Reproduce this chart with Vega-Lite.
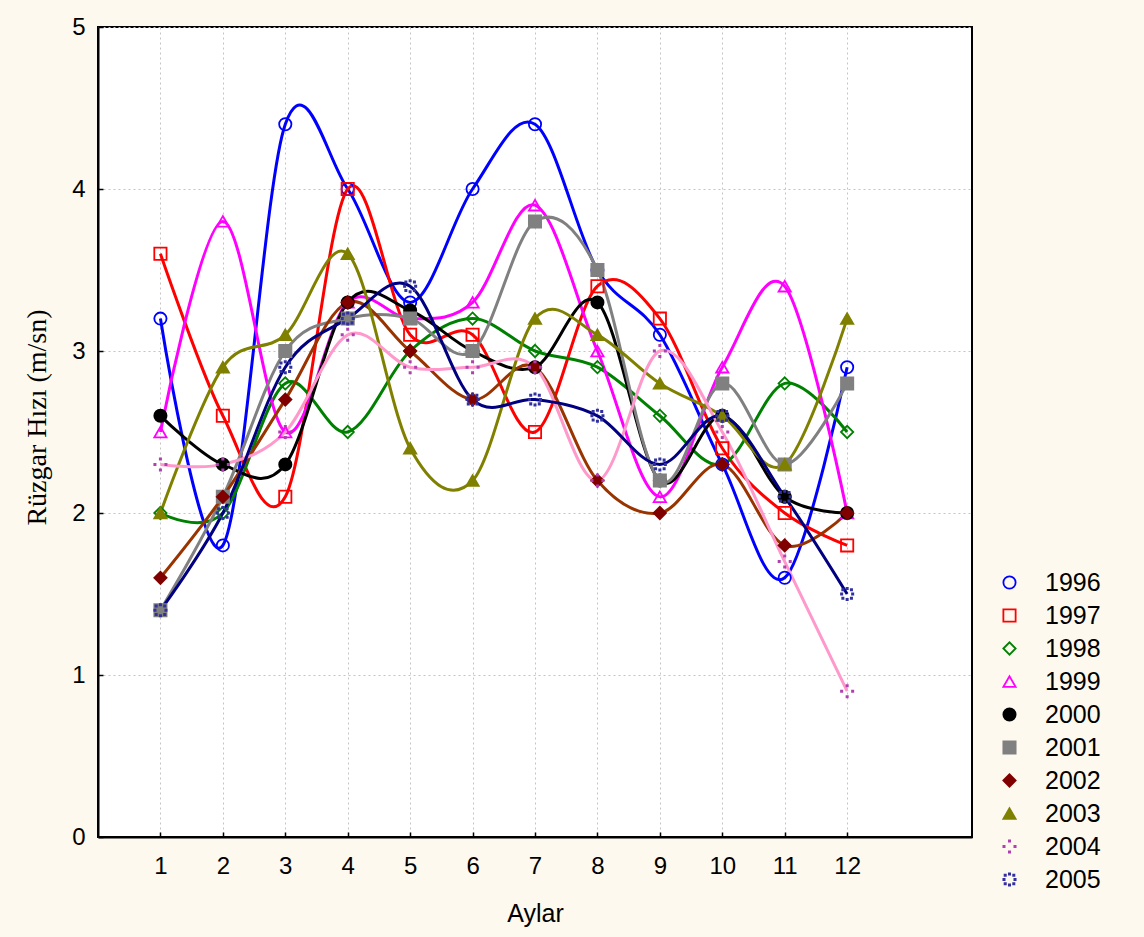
{
  "$schema": "https://vega.github.io/schema/vega-lite/v6.json",
  "width": 874,
  "height": 810,
  "autosize": "none",
  "padding": {"left": 98, "top": 27, "right": 172, "bottom": 100},
  "background": "#FEF9EE",
  "data": {"values": [
      {"year": "1996", "month": 1, "v": 3.2}, {"year": "1996", "month": 2, "v": 1.8}, {"year": "1996", "month": 3, "v": 4.4}, {"year": "1996", "month": 4, "v": 4.0}, {"year": "1996", "month": 5, "v": 3.3}, {"year": "1996", "month": 6, "v": 4.0}, {"year": "1996", "month": 7, "v": 4.4}, {"year": "1996", "month": 8, "v": 3.5}, {"year": "1996", "month": 9, "v": 3.1}, {"year": "1996", "month": 10, "v": 2.3}, {"year": "1996", "month": 11, "v": 1.6}, {"year": "1996", "month": 12, "v": 2.9},
      {"year": "1997", "month": 1, "v": 3.6}, {"year": "1997", "month": 2, "v": 2.6}, {"year": "1997", "month": 3, "v": 2.1}, {"year": "1997", "month": 4, "v": 4.0}, {"year": "1997", "month": 5, "v": 3.1}, {"year": "1997", "month": 6, "v": 3.1}, {"year": "1997", "month": 7, "v": 2.5}, {"year": "1997", "month": 8, "v": 3.4}, {"year": "1997", "month": 9, "v": 3.2}, {"year": "1997", "month": 10, "v": 2.4}, {"year": "1997", "month": 11, "v": 2.0}, {"year": "1997", "month": 12, "v": 1.8},
      {"year": "1998", "month": 1, "v": 2.0}, {"year": "1998", "month": 2, "v": 2.0}, {"year": "1998", "month": 3, "v": 2.8}, {"year": "1998", "month": 4, "v": 2.5}, {"year": "1998", "month": 5, "v": 3.0}, {"year": "1998", "month": 6, "v": 3.2}, {"year": "1998", "month": 7, "v": 3.0}, {"year": "1998", "month": 8, "v": 2.9}, {"year": "1998", "month": 9, "v": 2.6}, {"year": "1998", "month": 10, "v": 2.3}, {"year": "1998", "month": 11, "v": 2.8}, {"year": "1998", "month": 12, "v": 2.5},
      {"year": "1999", "month": 1, "v": 2.5}, {"year": "1999", "month": 2, "v": 3.8}, {"year": "1999", "month": 3, "v": 2.5}, {"year": "1999", "month": 4, "v": 3.3}, {"year": "1999", "month": 5, "v": 3.2}, {"year": "1999", "month": 6, "v": 3.3}, {"year": "1999", "month": 7, "v": 3.9}, {"year": "1999", "month": 8, "v": 3.0}, {"year": "1999", "month": 9, "v": 2.1}, {"year": "1999", "month": 10, "v": 2.9}, {"year": "1999", "month": 11, "v": 3.4}, {"year": "1999", "month": 12, "v": 2.0},
      {"year": "2000", "month": 1, "v": 2.6}, {"year": "2000", "month": 2, "v": 2.3}, {"year": "2000", "month": 3, "v": 2.3}, {"year": "2000", "month": 4, "v": 3.3}, {"year": "2000", "month": 5, "v": 3.25}, {"year": "2000", "month": 6, "v": 3.0}, {"year": "2000", "month": 7, "v": 2.9}, {"year": "2000", "month": 8, "v": 3.3}, {"year": "2000", "month": 9, "v": 2.2}, {"year": "2000", "month": 10, "v": 2.6}, {"year": "2000", "month": 11, "v": 2.1}, {"year": "2000", "month": 12, "v": 2.0},
      {"year": "2001", "month": 1, "v": 1.4}, {"year": "2001", "month": 2, "v": 2.1}, {"year": "2001", "month": 3, "v": 3.0}, {"year": "2001", "month": 4, "v": 3.2}, {"year": "2001", "month": 5, "v": 3.2}, {"year": "2001", "month": 6, "v": 3.0}, {"year": "2001", "month": 7, "v": 3.8}, {"year": "2001", "month": 8, "v": 3.5}, {"year": "2001", "month": 9, "v": 2.2}, {"year": "2001", "month": 10, "v": 2.8}, {"year": "2001", "month": 11, "v": 2.3}, {"year": "2001", "month": 12, "v": 2.8},
      {"year": "2002", "month": 1, "v": 1.6}, {"year": "2002", "month": 2, "v": 2.1}, {"year": "2002", "month": 3, "v": 2.7}, {"year": "2002", "month": 4, "v": 3.3}, {"year": "2002", "month": 5, "v": 3.0}, {"year": "2002", "month": 6, "v": 2.7}, {"year": "2002", "month": 7, "v": 2.9}, {"year": "2002", "month": 8, "v": 2.2}, {"year": "2002", "month": 9, "v": 2.0}, {"year": "2002", "month": 10, "v": 2.3}, {"year": "2002", "month": 11, "v": 1.8}, {"year": "2002", "month": 12, "v": 2.0},
      {"year": "2003", "month": 1, "v": 2.0}, {"year": "2003", "month": 2, "v": 2.9}, {"year": "2003", "month": 3, "v": 3.1}, {"year": "2003", "month": 4, "v": 3.6}, {"year": "2003", "month": 5, "v": 2.4}, {"year": "2003", "month": 6, "v": 2.2}, {"year": "2003", "month": 7, "v": 3.2}, {"year": "2003", "month": 8, "v": 3.1}, {"year": "2003", "month": 9, "v": 2.8}, {"year": "2003", "month": 10, "v": 2.6}, {"year": "2003", "month": 11, "v": 2.3}, {"year": "2003", "month": 12, "v": 3.2},
      {"year": "2004", "month": 1, "v": 2.3}, {"year": "2004", "month": 2, "v": 2.3}, {"year": "2004", "month": 3, "v": 2.5}, {"year": "2004", "month": 4, "v": 3.1}, {"year": "2004", "month": 5, "v": 2.9}, {"year": "2004", "month": 6, "v": 2.9}, {"year": "2004", "month": 7, "v": 2.9}, {"year": "2004", "month": 8, "v": 2.2}, {"year": "2004", "month": 9, "v": 3.0}, {"year": "2004", "month": 10, "v": 2.5}, {"year": "2004", "month": 11, "v": 1.7}, {"year": "2004", "month": 12, "v": 0.9},
      {"year": "2005", "month": 1, "v": 1.4}, {"year": "2005", "month": 2, "v": 2.0}, {"year": "2005", "month": 3, "v": 2.9}, {"year": "2005", "month": 4, "v": 3.2}, {"year": "2005", "month": 5, "v": 3.4}, {"year": "2005", "month": 6, "v": 2.7}, {"year": "2005", "month": 7, "v": 2.7}, {"year": "2005", "month": 8, "v": 2.6}, {"year": "2005", "month": 9, "v": 2.3}, {"year": "2005", "month": 10, "v": 2.6}, {"year": "2005", "month": 11, "v": 2.1}, {"year": "2005", "month": 12, "v": 1.5}
  ]},
  "encoding": {
    "x": {
      "field": "month", "type": "quantitative",
      "scale": {"domain": [0, 14], "nice": false, "zero": false},
      "axis": {"title": "Aylar", "values": [1,2,3,4,5,6,7,8,9,10,11,12], "grid": true, "titlePadding": 23, "labelPadding": 22}
    },
    "y": {
      "field": "v", "type": "quantitative",
      "scale": {"domain": [0, 5], "nice": false},
      "axis": {"title": "Rüzgar Hızı (m/sn)", "values": [0,1,2,3,4,5], "grid": true, "titleFont": "Liberation Serif", "titleFontSize": 28, "titlePadding": 20, "titleY": 390, "labelPadding": 18}
    }
  },
  "layer": [
    {
      "mark": {"type": "line", "interpolate": "cardinal", "tension": 0, "strokeWidth": 3},
      "encoding": {
        "color": {
          "field": "year", "type": "nominal", "legend": null,
          "scale": {"range": ["#0000FF","#FF0000","#008000","#FF00FF","#000000","#808080","#993300","#808000","#FF99CC","#000080"]}
        }
      }
    },
    {
      "mark": {"type": "point", "size": 150, "strokeWidth": 1.8, "opacity": 1},
      "encoding": {
        "shape": {
          "field": "year", "type": "nominal",
          "scale": {"range": ["circle","square","diamond","triangle-up","circle","square","diamond","triangle-up",
                              "M-0.1,-1H0.1V-0.8H-0.1Z M-0.1,0.8H0.1V1H-0.1Z M-1,-0.1H-0.8V0.1H-1Z M0.8,-0.1H1V0.1H0.8Z",
                              "M-0.1,-1H0.1V-0.8H-0.1Z M-0.1,0.8H0.1V1H-0.1Z M-1,-0.1H-0.8V0.1H-1Z M0.8,-0.1H1V0.1H0.8Z M-0.8,-0.8H-0.6V-0.6H-0.8Z M0.6,-0.8H0.8V-0.6H0.6Z M-0.8,0.6H-0.6V0.8H-0.8Z M0.6,0.6H0.8V0.8H0.6Z"]},
          "legend": {"title": null, "orient": "none", "legendX": 899, "legendY": 543, "labelFontSize": 25, "labelColor": "#000000", "symbolSize": 150, "symbolStrokeWidth": 1.8, "labelOffset": 23, "rowPadding": 7}
        },
        "stroke": {
          "field": "year", "type": "nominal",
          "scale": {"range": ["#0000FF","#FF0000","#008000","#FF00FF","#000000","#808080","#800000","#808000","#B040B0","#3030A0"]},
          "legend": {"title": null, "orient": "none", "legendX": 899, "legendY": 543, "labelFontSize": 25, "labelColor": "#000000", "symbolSize": 150, "symbolStrokeWidth": 1.8, "labelOffset": 23, "rowPadding": 7}
        },
        "fill": {
          "field": "year", "type": "nominal",
          "scale": {"range": ["transparent","transparent","transparent","transparent","#000000","#808080","#800000","#808000","#B040B0","#3030A0"]},
          "legend": {"title": null, "orient": "none", "legendX": 899, "legendY": 543, "labelFontSize": 25, "labelColor": "#000000", "symbolSize": 150, "symbolStrokeWidth": 1.8, "labelOffset": 23, "rowPadding": 7}
        }
      }
    }
  ],
  "config": {
    "font": "Liberation Sans",
    "view": {"fill": "#FFFFFF", "stroke": "#000000", "strokeWidth": 2},
    "axis": {
      "domainColor": "#000000", "domainWidth": 2,
      "tickColor": "#000000", "tickSize": -5, "tickWidth": 1.5,
      "gridColor": "#C4C4C4", "gridDash": [2, 3], "gridWidth": 1,
      "labelFontSize": 24, "labelColor": "#000000", "labelFont": "Liberation Sans",
      "titleFontSize": 25, "titleFontWeight": "normal", "titleColor": "#000000", "titleFont": "Liberation Sans"
    }
  }
}
